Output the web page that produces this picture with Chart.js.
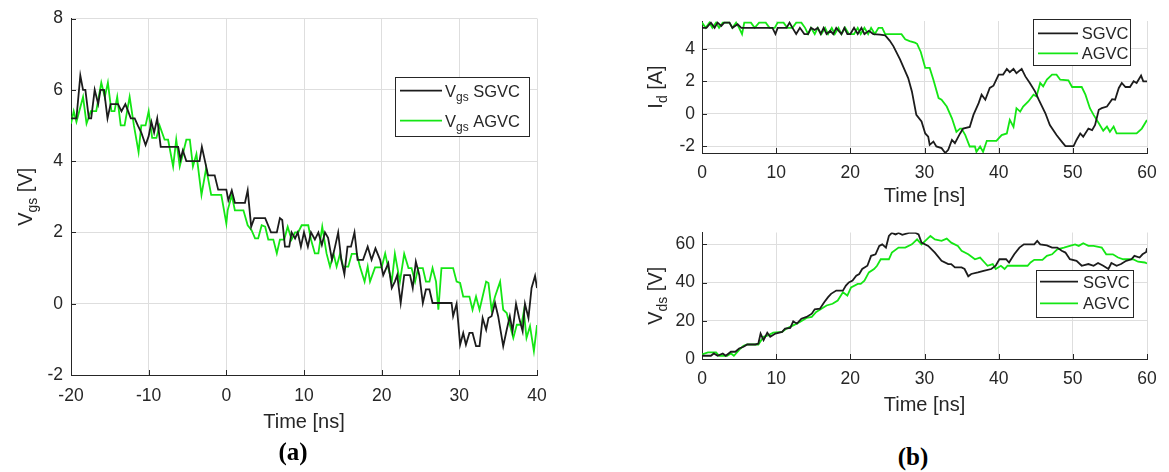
<!DOCTYPE html>
<html><head><meta charset="utf-8">
<script src="https://cdn.jsdelivr.net/npm/chart.js@4.4.0/dist/chart.umd.min.js"></script>
<style>
html,body{margin:0;padding:0;background:#fff;}
body{width:1169px;height:472px;position:relative;overflow:hidden;font-family:'Liberation Sans',Arial,sans-serif;}
canvas{position:absolute;}
.cap{position:absolute;font-family:'Liberation Serif','DejaVu Serif',serif;font-weight:bold;font-size:25px;color:#000;transform:translate(-50%,-50%);white-space:nowrap;}
</style></head><body>
<canvas id="cA" width="560" height="440" style="left:0;top:0"></canvas>
<canvas id="cB1" width="529" height="215" style="left:640px;top:0"></canvas>
<canvas id="cB2" width="529" height="215" style="left:640px;top:215px"></canvas>
<div class="cap" style="left:293px;top:452px">(a)</div>
<div class="cap" style="left:913px;top:457px">(b)</div>
<script>
// ---------- DATA ----------
// (a) gate-source voltage [V] vs time [ns]  (pairs: [time, value])
const vgsSGVC = [[-20,5.2],[-19.3,5.2],[-18.8,6.4],[-18.45,6.0],[-18.15,6.0],[-17.7,5.2],[-17.4,5.2],[-16.95,6.0],[-16.5,5.6],[-16.2,6.0],[-15.75,6.0],[-15.3,5.2],[-14.9,5.6],[-13.95,5.6],[-13.5,5.4],[-13.0,5.6],[-12.65,5.4],[-12.3,5.2],[-11.8,5.2],[-11.4,5.0],[-10.95,4.8],[-10.4,4.45],[-10.0,4.7],[-9.65,5.1],[-9.3,4.8],[-8.9,5.2],[-8.45,4.4],[-6.65,4.4],[-6.2,4.4],[-5.9,4.05],[-5.6,4.3],[-5.15,4.0],[-3.45,4.0],[-3.15,4.4],[-2.35,3.6],[-1.5,3.6],[-1.05,3.2],[0,3.2],[0.26,2.9],[0.7,3.18],[1.1,2.83],[2.4,2.83],[2.75,3.18],[3.2,2.16],[3.6,2.4],[5.0,2.4],[5.75,2.0],[6.5,2.0],[6.9,2.4],[7.2,2.35],[7.55,1.6],[8.1,1.6],[8.4,2.0],[8.85,1.83],[9.2,2.0],[9.6,1.6],[10.0,2.0],[10.5,1.6],[10.9,2.0],[11.4,1.8],[11.85,2.0],[12.3,1.65],[12.7,2.0],[13.1,1.85],[13.6,1.23],[14.0,1.6],[14.4,2.0],[14.8,1.23],[15.2,0.83],[15.6,1.6],[16.05,1.6],[16.5,2.0],[16.9,1.23],[17.6,1.23],[18.2,1.6],[18.7,1.23],[19.2,1.55],[19.8,1.23],[20.2,0.8],[20.85,1.13],[21.3,0.44],[21.7,0.62],[22.0,0.8],[22.45,0.02],[22.9,0.8],[23.65,0.8],[24.0,0.44],[24.4,1.18],[24.85,0.8],[25.3,0.02],[25.7,0.4],[26.15,0.4],[26.55,0.02],[29.0,0.02],[29.2,-0.35],[29.65,0.0],[30.1,-1.15],[30.5,-0.82],[30.85,-1.15],[31.3,-0.82],[31.7,-0.82],[32.15,-1.19],[32.6,-1.19],[33.0,-0.4],[33.45,-0.73],[33.75,-0.4],[34.15,-0.35],[34.6,0.02],[35.0,-0.35],[35.65,-1.19],[36.1,-0.73],[36.5,-0.35],[36.85,-0.77],[37.3,0.0],[37.7,-0.4],[38.15,-0.77],[38.45,0.0],[38.9,-0.4],[39.3,0.44],[39.75,0.78],[40,0.44]];
const vgsAGVC = [[-20,5.05],[-19.65,5.4],[-19.3,5.1],[-18.45,5.8],[-18.0,5.05],[-17.45,5.4],[-16.75,5.4],[-16.1,6.2],[-15.65,5.8],[-15.25,6.2],[-14.8,5.4],[-14.4,5.4],[-14.05,5.8],[-13.6,5.0],[-13.1,5.0],[-12.45,5.8],[-11.9,5.0],[-11.3,4.25],[-10.95,5.0],[-10.4,5.0],[-10.0,5.4],[-9.55,4.65],[-9.0,4.65],[-8.6,5.0],[-7.95,4.6],[-7.5,4.6],[-6.85,3.85],[-6.45,4.6],[-6.0,3.85],[-5.6,4.2],[-5.15,4.6],[-4.7,4.6],[-4.3,3.85],[-3.85,4.2],[-3.2,3.05],[-2.6,3.8],[-1.95,3.05],[-0.65,3.05],[0,2.25],[0.17,2.62],[0.7,3.04],[1.1,2.62],[2.2,2.62],[2.75,2.2],[3.25,2.06],[3.7,1.83],[4.1,1.83],[4.55,2.2],[5.0,2.16],[5.4,1.8],[6.05,1.8],[6.5,1.41],[6.9,1.8],[7.45,1.8],[7.9,2.16],[8.4,1.8],[8.85,2.0],[9.25,2.0],[9.7,2.2],[10.55,2.2],[10.9,1.8],[11.4,1.41],[11.85,1.41],[12.35,2.16],[12.9,1.41],[13.35,1.04],[13.8,1.41],[14.2,1.04],[14.65,1.41],[15.05,1.04],[15.7,1.04],[16.15,1.4],[16.8,1.4],[17.2,1.04],[17.8,0.62],[18.2,1.04],[18.5,0.62],[19.15,1.02],[20.0,1.02],[20.45,1.41],[20.85,1.0],[21.3,0.62],[21.7,1.4],[22.35,0.62],[22.9,1.4],[23.45,1.0],[23.85,1.0],[24.3,0.62],[24.7,1.0],[25.3,1.0],[25.7,0.62],[26.15,0.62],[26.55,1.0],[27.0,0.62],[27.3,-0.17],[27.7,1.0],[29.2,1.0],[29.65,0.62],[30.1,0.58],[30.5,0.2],[31.3,0.2],[31.7,-0.17],[32.15,0.2],[32.6,-0.17],[33.0,0.2],[33.45,0.62],[33.75,0.58],[34.15,-0.17],[34.6,0.2],[35.25,0.62],[35.65,-0.17],[36.1,-0.26],[36.5,-0.59],[36.95,-0.96],[37.4,-0.59],[38.0,-0.59],[38.3,-0.22],[38.65,-0.96],[39.1,-0.63],[39.6,-1.33],[40,-0.6]];

// (b) drain current [A] vs time [ns]
const idSGVC = [[0,5.28],[0.6,5.28],[1.2,5.6],[1.7,5.28],[2.1,5.6],[2.6,5.4],[3.0,5.6],[3.7,5.6],[4.1,5.28],[4.8,5.5],[5.3,5.28],[9.5,5.28],[9.9,4.9],[10.2,5.28],[11.4,5.28],[11.8,5.6],[12.2,5.28],[12.7,4.9],[13.2,5.28],[13.8,4.9],[14.3,4.9],[14.7,5.28],[15.2,5.15],[15.6,5.28],[16.0,4.9],[16.4,5.28],[16.8,4.9],[17.3,5.1],[17.7,4.9],[18.1,5.28],[18.8,4.9],[19.2,5.28],[19.6,4.9],[20.0,4.9],[20.5,5.28],[21.0,4.9],[21.5,5.28],[21.9,4.9],[22.5,5.1],[23.1,4.9],[24.0,4.86],[24.7,4.82],[25.3,4.5],[25.8,4.16],[26.7,3.34],[27.8,2.2],[28.3,1.38],[28.9,-0.06],[29.6,-0.47],[30.1,-1.2],[30.5,-1.4],[30.7,-1.9],[31.2,-1.7],[31.6,-2.0],[32.3,-2.1],[32.8,-2.4],[33.2,-2.2],[33.7,-1.6],[34.1,-1.8],[34.8,-1.2],[35.2,-0.9],[36.1,-0.8],[36.6,-0.06],[37.3,0.66],[37.7,1.18],[38.2,0.87],[38.8,1.59],[39.3,1.73],[40.0,2.41],[40.6,2.41],[41.1,2.76],[41.5,2.56],[42.0,2.76],[42.4,2.5],[43.1,2.76],[43.6,2.3],[44.2,1.9],[44.9,1.38],[45.4,0.87],[46.3,0.04],[46.9,-0.68],[47.8,-1.3],[48.5,-1.7],[49.0,-1.98],[50.1,-1.98],[50.5,-1.6],[51.0,-1.2],[51.4,-1.4],[52.1,-0.9],[52.6,-1.0],[53.0,-0.68],[53.5,0.25],[53.9,0.35],[54.6,0.45],[55.3,0.9],[55.7,0.87],[56.2,1.59],[56.6,1.9],[57.1,1.65],[57.7,1.65],[58.2,2.0],[58.6,1.9],[59.2,2.35],[59.5,2.0],[60,2.0]];
const idAGVC = [[0,5.6],[0.5,5.28],[1.0,5.6],[1.4,5.28],[1.9,5.6],[2.3,5.28],[2.8,5.6],[3.7,5.6],[4.1,5.28],[4.6,5.6],[5.0,5.28],[5.4,4.9],[5.7,5.6],[6.6,5.6],[7.1,5.28],[7.7,5.6],[8.6,5.6],[9.1,5.28],[9.8,5.28],[10.2,5.6],[11.0,5.6],[11.5,5.28],[12.2,5.28],[12.7,5.6],[13.4,5.6],[13.9,5.28],[14.3,4.9],[14.7,5.28],[15.2,4.9],[15.6,5.28],[16.1,4.9],[16.6,5.28],[17.0,4.9],[17.5,5.28],[17.9,4.9],[18.4,5.28],[18.8,4.9],[19.3,5.28],[19.8,4.9],[20.5,4.9],[21.0,5.28],[21.4,4.9],[21.9,5.28],[22.4,4.9],[22.8,5.28],[23.3,4.9],[23.8,5.28],[24.3,5.28],[24.7,4.89],[26.9,4.89],[27.4,4.58],[28.0,4.47],[28.7,4.37],[29.0,4.3],[29.5,3.8],[30.1,2.82],[30.7,2.82],[31.2,2.1],[31.9,0.97],[32.3,0.87],[33.0,0.45],[33.7,-0.27],[34.3,-1.1],[34.8,-0.9],[35.0,-0.9],[35.5,-1.3],[36.1,-2.0],[36.8,-2.0],[37.0,-2.33],[37.5,-2.0],[37.9,-2.33],[38.4,-1.65],[39.7,-1.65],[40.4,-1.3],[41.1,-1.2],[41.5,-0.37],[42.0,-0.8],[42.4,0.35],[42.9,0.14],[43.3,0.45],[44.0,0.76],[44.7,1.18],[45.1,1.07],[45.6,1.9],[46.0,1.69],[46.5,2.1],[47.2,2.41],[47.8,2.41],[48.3,2.1],[49.4,2.06],[49.9,1.65],[51.2,1.65],[51.7,1.18],[52.3,0.35],[52.8,-0.06],[53.5,-0.58],[54.1,-1.03],[54.6,-0.78],[55.0,-1.1],[55.5,-0.78],[55.9,-1.2],[58.6,-1.2],[59.3,-0.9],[60,-0.37]];

// (b) drain-source voltage [V] vs time [ns]
const vdsSGVC = [[0,1.7],[1.2,1.7],[1.6,2.9],[2.1,1.7],[2.8,2.9],[3.2,1.7],[3.9,3.8],[4.5,3.8],[5.0,5.5],[5.6,6.4],[6.1,7.6],[7.2,7.6],[7.6,8.1],[7.9,13.3],[8.3,9.9],[8.8,13.7],[9.2,11.6],[9.9,13.3],[10.8,14.2],[11.2,15.9],[11.9,16.3],[12.3,19.7],[12.8,18.5],[13.4,21.1],[14.1,22.0],[14.8,23.7],[15.2,26.0],[15.9,26.3],[16.5,29.8],[17.0,32.4],[17.4,34.1],[18.1,35.8],[19.0,35.8],[19.4,38.4],[19.8,40.1],[20.3,41.0],[20.8,43.6],[21.2,44.5],[21.6,47.1],[22.3,48.8],[22.8,54.0],[23.4,54.8],[23.9,59.2],[24.3,60.0],[24.8,58.3],[25.2,64.4],[25.6,66.0],[26.1,65.2],[26.5,66.0],[27.0,65.0],[27.9,66.0],[28.8,66.0],[29.2,65.2],[29.6,60.9],[30.5,59.2],[31.4,55.7],[32.3,51.4],[33.2,49.7],[33.6,49.7],[34.1,47.9],[35.0,47.9],[35.4,47.1],[35.9,43.3],[36.3,44.5],[37.2,45.3],[38.1,46.2],[39.0,47.1],[39.6,48.8],[40.1,52.2],[41.0,52.2],[41.4,50.5],[42.1,54.8],[42.8,58.3],[43.4,60.0],[44.8,60.0],[45.2,61.8],[45.6,60.0],[46.5,59.5],[47.2,58.3],[47.9,58.3],[48.5,56.6],[49.0,55.7],[49.6,52.2],[50.5,51.4],[51.2,48.8],[52.1,49.7],[52.8,48.8],[53.4,50.2],[54.1,48.8],[54.8,47.1],[55.2,50.2],[55.9,48.8],[56.5,49.7],[57.2,51.4],[57.9,52.2],[58.3,54.0],[59.0,53.1],[59.4,54.8],[59.9,56.0],[60,58.0]];
const vdsAGVC = [[0,2.4],[0.8,3.5],[1.9,3.5],[2.3,1.7],[3.4,1.7],[3.9,2.9],[4.3,1.7],[4.8,3.8],[5.2,5.5],[5.6,6.9],[6.1,7.6],[7.6,7.6],[8.3,11.6],[9.0,12.5],[9.6,13.8],[10.8,14.2],[11.4,15.9],[12.3,17.6],[13.2,19.4],[14.1,21.5],[14.8,22.0],[15.4,24.6],[16.1,26.3],[16.8,28.0],[17.6,28.9],[18.3,30.6],[19.0,34.9],[19.6,33.2],[20.1,37.5],[21.0,39.3],[21.4,39.3],[21.9,41.0],[22.5,45.3],[23.2,47.1],[23.6,48.8],[24.1,52.2],[25.2,52.2],[25.6,55.7],[26.5,58.3],[27.4,58.3],[28.3,60.0],[29.0,62.6],[29.6,60.0],[30.1,61.8],[30.8,64.4],[31.4,62.6],[32.3,61.8],[33.0,63.0],[33.6,60.9],[34.5,59.2],[35.0,56.6],[35.9,54.8],[36.8,52.2],[37.5,53.1],[38.1,50.5],[38.5,48.8],[39.2,49.7],[39.6,47.1],[40.3,48.8],[40.8,47.1],[41.2,48.8],[43.9,48.8],[44.3,50.5],[44.8,51.9],[45.9,51.9],[46.5,54.0],[47.2,54.8],[47.9,57.4],[48.8,58.3],[49.6,59.2],[50.3,60.0],[50.8,59.2],[51.4,60.6],[52.1,59.2],[52.8,59.2],[53.9,58.3],[54.5,54.8],[55.4,54.8],[56.1,53.1],[56.8,52.2],[58.1,52.2],[58.8,50.9],[59.7,50.5],[60,50.0]];

// tick labels
const vgsTimeTicks = [-20,-10,0,10,20,30,40];
const vgsTicks = [-2,0,2,4,6,8];
const bTimeTicks = [0,10,20,30,40,50,60];
const idTicks = [-2,0,2,4];
const vdsTicks = [0,20,40,60];
const seriesNames = ['SGVC','AGVC'];

// ---------- STYLE ----------
const BLACK = '#1c1c1c', GREEN = '#14e614', AX = '#262626', GRID = '#dedede';
const FONT = '"Liberation Sans", Arial, sans-serif';

function rich(ctx, parts, x, y, size, subSize, subOff, align) {
  const ws = parts.map(p => { ctx.font = (p.sub ? subSize : size) + 'px ' + FONT; return ctx.measureText(p.t).width; });
  const total = ws.reduce((a, b) => a + b, 0);
  let cx = align === 'center' ? x - total / 2 : x;
  ctx.textAlign = 'left'; ctx.textBaseline = 'alphabetic';
  parts.forEach((p, i) => {
    ctx.font = (p.sub ? subSize : size) + 'px ' + FONT;
    ctx.fillText(p.t, cx, y + (p.sub ? subOff : 0));
    cx += ws[i];
  });
}

function deco(cfg) {
  return {
    id: 'deco',
    beforeDatasetsDraw(chart) {
      const ctx = chart.ctx, ca = chart.chartArea;
      const xs = chart.scales.x, ys = chart.scales.y;
      ctx.save();
      ctx.strokeStyle = AX; ctx.lineWidth = 1;
      ctx.beginPath();
      cfg.xt.forEach(v => { const px = Math.round(xs.getPixelForValue(v)) + 0.5; ctx.moveTo(px, ca.bottom); ctx.lineTo(px, ca.bottom - 5); });
      cfg.yt.forEach(v => { const py = Math.round(ys.getPixelForValue(v)) + 0.5; ctx.moveTo(ca.left, py); ctx.lineTo(ca.left + 5, py); });
      ctx.stroke();
      ctx.restore();
    },
    afterDraw(chart) {
      const ctx = chart.ctx, ca = chart.chartArea;
      ctx.save();
      ctx.fillStyle = AX;
      ctx.font = '20px ' + FONT;
      ctx.textAlign = 'center'; ctx.textBaseline = 'middle';
      ctx.fillText('Time [ns]', (ca.left + ca.right) / 2, ca.bottom + cfg.xlabOff);
      ctx.save();
      ctx.translate(cfg.ylabX, (ca.top + ca.bottom) / 2);
      ctx.rotate(-Math.PI / 2);
      rich(ctx, cfg.ylab, 0, 0, 20, 14, 5, 'center');
      ctx.restore();
      // legend
      const L = cfg.legend;
      ctx.fillStyle = '#fff';
      ctx.fillRect(L.x, L.y, L.w, L.h);
      ctx.strokeStyle = AX; ctx.lineWidth = 1;
      ctx.strokeRect(Math.round(L.x) + 0.5, Math.round(L.y) + 0.5, Math.round(L.w), Math.round(L.h));
      chart.data.datasets.forEach((ds, i) => {
        const ry = L.rows[i];
        ctx.strokeStyle = ds.borderColor; ctx.lineWidth = 1.8;
        ctx.beginPath(); ctx.moveTo(L.lx0, ry); ctx.lineTo(L.lx1, ry); ctx.stroke();
        ctx.fillStyle = AX;
        rich(ctx, L.labels[i], L.tx, ry + 6, 16.5, 12, 4, 'left');
      });
      ctx.restore();
    }
  };
}

function makeChart(id, c) {
  const toPts = arr => arr.map(p => ({ x: p[0], y: p[1] }));
  return new Chart(document.getElementById(id), {
    type: 'line',
    data: {
      datasets: [
        { label: seriesNames[0], data: toPts(c.s1), borderColor: BLACK, borderWidth: 1.8, pointRadius: 0, tension: 0 },
        { label: seriesNames[1], data: toPts(c.s2), borderColor: GREEN, borderWidth: 1.8, pointRadius: 0, tension: 0 }
      ]
    },
    options: {
      responsive: false, animation: false, devicePixelRatio: 1,
      layout: { padding: { top: c.padTop, right: c.padRight, left: 0, bottom: 0 } },
      plugins: { legend: { display: false }, tooltip: { enabled: false } },
      scales: {
        x: {
          type: 'linear', min: c.xmin, max: c.xmax,
          afterBuildTicks: s => { s.ticks = c.xt.map(v => ({ value: v })); },
          afterFit: s => { s.height = c.xH; },
          grid: { color: GRID, drawTicks: false, lineWidth: 1 },
          border: { display: true, color: AX, width: 1 },
          ticks: { color: AX, font: { family: FONT, size: 17.5 }, padding: c.xPad, maxRotation: 0, autoSkip: false }
        },
        y: {
          type: 'linear', min: c.ymin, max: c.ymax,
          afterBuildTicks: s => { s.ticks = c.yt.map(v => ({ value: v })); },
          afterFit: s => { s.width = c.yW; },
          grid: { color: GRID, drawTicks: false, lineWidth: 1 },
          border: { display: true, color: AX, width: 1 },
          ticks: { color: AX, font: { family: FONT, size: 17.5 }, padding: c.yPad, autoSkip: false }
        }
      }
    },
    plugins: [deco(c)]
  });
}

const V = 'V';
makeChart('cA', {
  s1: vgsSGVC, s2: vgsAGVC, xmin: -20, xmax: 40, ymin: -2, ymax: 8, xt: vgsTimeTicks, yt: vgsTicks,
  padTop: 17, padRight: 23, xH: 65, yW: 71, xPad: 11, yPad: 8, xlabOff: 47, ylabX: 32,
  ylab: [{ t: 'V' }, { t: 'gs', sub: true }, { t: ' [V]' }],
  legend: { x: 395, y: 77, w: 134, h: 59, rows: [90.7, 120.7], lx0: 400, lx1: 442, tx: 445,
    labels: [[{ t: 'V' }, { t: 'gs', sub: true }, { t: ' ' + seriesNames[0] }], [{ t: 'V' }, { t: 'gs', sub: true }, { t: ' ' + seriesNames[1] }]] }
});
makeChart('cB1', {
  s1: idSGVC, s2: idAGVC, xmin: 0, xmax: 60, ymin: -2.4, ymax: 5.7, xt: bTimeTicks, yt: idTicks,
  padTop: 21, padRight: 22, xH: 62, yW: 62, xPad: 10, yPad: 7, xlabOff: 43, ylabX: 22,
  ylab: [{ t: 'I' }, { t: 'd', sub: true }, { t: ' [A]' }],
  legend: { x: 393, y: 19.3, w: 97, h: 45.7, rows: [33.3, 53.3], lx0: 398, lx1: 438, tx: 441.7,
    labels: [[{ t: seriesNames[0] }], [{ t: seriesNames[1] }]] }
});
makeChart('cB2', {
  s1: vdsSGVC, s2: vdsAGVC, xmin: 0, xmax: 60, ymin: 0, ymax: 66.2, xt: bTimeTicks, yt: vdsTicks,
  padTop: 17, padRight: 22, xH: 71, yW: 62, xPad: 10, yPad: 7, xlabOff: 46, ylabX: 22,
  ylab: [{ t: 'V' }, { t: 'ds', sub: true }, { t: ' [V]' }],
  legend: { x: 395.7, y: 55, w: 97, h: 46.7, rows: [66.7, 88.3], lx0: 400, lx1: 438, tx: 443,
    labels: [[{ t: seriesNames[0] }], [{ t: seriesNames[1] }]] }
});
</script>
</body></html>
